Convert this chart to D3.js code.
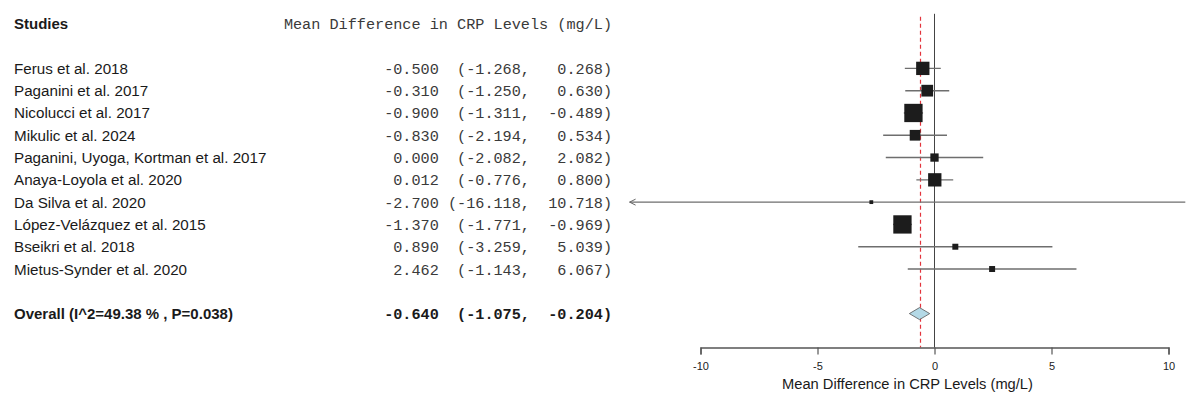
<!DOCTYPE html>
<html>
<head>
<meta charset="utf-8">
<script src="https://cdn.jsdelivr.net/npm/d3@7/dist/d3.min.js"></script>
<style>
  html, body { margin: 0; padding: 0; background: #fff; }
  svg { display: block; }
  .sans { font-family: "Liberation Sans", Arial, sans-serif; }
  .mono { font-family: "Liberation Mono", "Courier New", monospace; white-space: pre; }
</style>
</head>
<body>
<div id="chart"></div>
<script>
// study rows, top to bottom
const studies = [
  'Ferus et al. 2018',
  'Paganini et al. 2017',
  'Nicolucci et al. 2017',
  'Mikulic et al. 2024',
  'Paganini, Uyoga, Kortman et al. 2017',
  'Anaya-Loyola et al. 2020',
  'Da Silva et al. 2020',
  'López-Velázquez et al. 2015',
  'Bseikri et al. 2018',
  'Mietus-Synder et al. 2020'
];
const estimates = [-0.500, -0.310, -0.900, -0.830, 0.000, 0.012, -2.700, -1.370, 0.890, 2.462];
const lowerCI   = [-1.268, -1.250, -1.311, -2.194, -2.082, -0.776, -16.118, -1.771, -3.259, -1.143];
const upperCI   = [0.268, 0.630, -0.489, 0.534, 2.082, 0.800, 10.718, -0.969, 5.039, 6.067];
// relative weights (%)
const weights   = [12.4, 9.6, 23.4, 8.0, 4.8, 12.4, 1.0, 23.4, 2.5, 2.5];

const overallLabel = 'Overall (I^2=49.38 % , P=0.038)';
const overall = { est: -0.640, lo: -1.075, hi: -0.204 };

const xTicks = [-10, -5, 0, 5, 10];
const xTickLabels = ['-10', '-5', '0', '5', '10'];
const clipRange = [-13.03, 11];

const W = 1200, H = 406;

const x = d3.scaleLinear().domain([-10, 10]).range([700.5, 1168.5]);
// row index -> y; -2 is the header row, 10 is blank, 11 is overall
const y = d3.scaleLinear().domain([-2, 11]).range([23.8, 313.6]);
const box = d3.scaleSqrt().domain([0, d3.max(weights)]).range([0, 18.3]);
const axisY = 347.5;

function f3(v) { return v.toFixed(3); }
function ciText(e, lo, hi) {
  return f3(e).padStart(6) + ' ' + ('(' + f3(lo) + ',').padStart(9) + '  ' + f3(hi).padStart(6) + ')';
}

const svg = d3.select('#chart').append('svg')
  .attr('width', W).attr('height', H)
  .attr('viewBox', `0 0 ${W} ${H}`);

svg.append('rect').attr('width', W).attr('height', H).attr('fill', '#fff');

// headers
svg.append('text').attr('class', 'sans')
  .attr('x', 14).attr('y', y(-2) + 5.5)
  .attr('font-size', 15).attr('font-weight', 'bold').attr('fill', '#1a1a1a')
  .text('Studies');
svg.append('text').attr('class', 'mono')
  .attr('x', 612).attr('y', y(-2) + 5.5)
  .attr('text-anchor', 'end').attr('font-size', 15.2).attr('fill', '#3a3a3a')
  .attr('xml:space', 'preserve')
  .text('Mean Difference in CRP Levels (mg/L)');

const rows = studies.map((s, i) => ({
  name: s, est: estimates[i], lo: lowerCI[i], hi: upperCI[i], w: weights[i], i
}));

// study labels + numbers
svg.append('g').selectAll('text')
  .data(rows).join('text')
  .attr('class', 'sans')
  .attr('x', 14).attr('y', d => y(d.i) + 5.5)
  .attr('font-size', 15.2).attr('fill', '#1a1a1a')
  .text(d => d.name);

svg.append('g').selectAll('text')
  .data(rows).join('text')
  .attr('class', 'mono')
  .attr('xml:space', 'preserve')
  .attr('x', 612).attr('y', d => y(d.i) + 5.5)
  .attr('text-anchor', 'end').attr('font-size', 15.2).attr('fill', '#3a3a3a')
  .text(d => ciText(d.est, d.lo, d.hi));

// overall row text
svg.append('text').attr('class', 'sans')
  .attr('x', 14).attr('y', y(11) + 5.5)
  .attr('font-size', 15).attr('font-weight', 'bold').attr('fill', '#1a1a1a')
  .text(overallLabel);
svg.append('text').attr('class', 'mono')
  .attr('xml:space', 'preserve')
  .attr('x', 612).attr('y', y(11) + 5.5)
  .attr('text-anchor', 'end').attr('font-size', 15.2).attr('font-weight', 'bold').attr('fill', '#1a1a1a')
  .text(ciText(overall.est, overall.lo, overall.hi));

// zero line
svg.append('line')
  .attr('x1', x(0)).attr('x2', x(0))
  .attr('y1', y(-2) - 10).attr('y2', axisY)
  .attr('stroke', '#444').attr('stroke-width', 1);

// overall estimate dashed line
const xo = Math.round(x(overall.est)) + 0.5;
svg.append('line')
  .attr('x1', xo).attr('x2', xo)
  .attr('y1', y(-2) - 7).attr('y2', axisY)
  .attr('stroke', '#e3343c').attr('stroke-width', 1.2)
  .attr('stroke-dasharray', '4,3');

const plot = svg.append('g');

// CI lines, clipped
plot.selectAll('line.ci')
  .data(rows).join('line')
  .attr('class', 'ci')
  .attr('x1', d => x(Math.max(d.lo, clipRange[0])))
  .attr('x2', d => x(Math.min(d.hi, clipRange[1])))
  .attr('y1', d => y(d.i)).attr('y2', d => y(d.i))
  .attr('stroke', '#6e6e6e').attr('stroke-width', 1.4);

// arrows where CI runs past the clip
plot.selectAll('path.arrow')
  .data(rows.filter(d => d.lo < clipRange[0])).join('path')
  .attr('class', 'arrow')
  .attr('d', d => {
    const x0 = x(clipRange[0]), yy = y(d.i);
    return `M${x0 + 6},${yy - 3}L${x0},${yy}L${x0 + 6},${yy + 3}`;
  })
  .attr('fill', 'none').attr('stroke', '#666').attr('stroke-width', 1);

// boxes
plot.selectAll('rect.box')
  .data(rows).join('rect')
  .attr('class', 'box')
  .attr('x', d => x(d.est) - box(d.w) / 2)
  .attr('y', d => y(d.i) - box(d.w) / 2)
  .attr('width', d => box(d.w))
  .attr('height', d => box(d.w))
  .attr('fill', '#1c1c1c');

// overall diamond
const dy = y(11);
svg.append('path')
  .attr('d', `M${x(overall.lo)},${dy}L${x(overall.est)},${dy - 6}L${x(overall.hi)},${dy}L${x(overall.est)},${dy + 6}Z`)
  .attr('fill', '#b4d9e6').attr('stroke', '#555').attr('stroke-width', 0.8);

// x axis
const axis = d3.axisBottom(x)
  .tickValues(xTicks)
  .tickFormat((d, i) => xTickLabels[i])
  .tickSize(7).tickSizeOuter(7).tickPadding(8);

const gx = svg.append('g')
  .attr('transform', `translate(0,${axisY})`)
  .call(axis);
gx.select('.domain').attr('stroke', '#555').attr('stroke-width', 1.4);
gx.selectAll('.tick line').attr('stroke', '#555').attr('stroke-width', 1.2);
gx.selectAll('.tick text')
  .attr('font-family', '"Liberation Sans", Arial, sans-serif')
  .attr('font-size', 11).attr('fill', '#222');

svg.append('text').attr('class', 'sans')
  .attr('x', 907.5).attr('y', 389)
  .attr('text-anchor', 'middle').attr('font-size', 14.7).attr('fill', '#1a1a1a')
  .text('Mean Difference in CRP Levels (mg/L)');
</script>
</body>
</html>
